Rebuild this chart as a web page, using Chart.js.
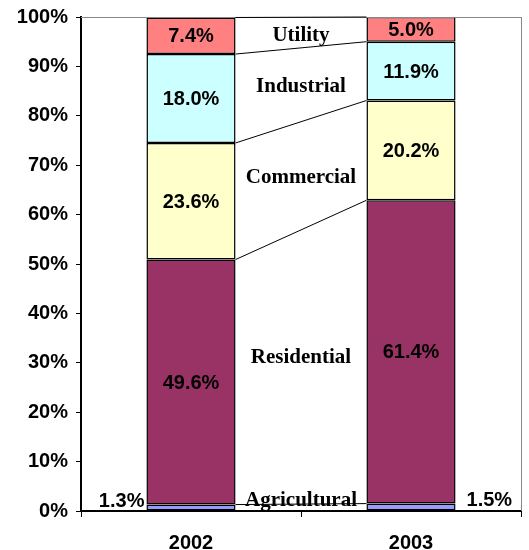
<!DOCTYPE html>
<html>
<head>
<meta charset="utf-8">
<script src="https://cdn.jsdelivr.net/npm/chart.js@4/dist/chart.umd.min.js"></script>
<style>
html,body{margin:0;padding:0;background:#fff;}
#wrap{width:529px;height:550px;position:relative;}
</style>
</head>
<body>
<div id="wrap"><canvas id="c" width="529" height="550"></canvas></div>
<script>
const categories = ["2002", "2003"];
const seriesNames = ["Agricultural", "Residential", "Commercial", "Industrial", "Utility"];
const agricultural = [1.3, 1.5];
const residential = [49.6, 61.4];
const commercial = [23.6, 20.2];
const industrial = [18.0, 11.9];
const utility = [7.4, 5.0];
const yTicks = [0, 10, 20, 30, 40, 50, 60, 70, 80, 90, 100];
const colors = ["#9999FF", "#993366", "#FFFFCC", "#CCFFFF", "#FF8080"];
const seriesValues = [agricultural, residential, commercial, industrial, utility];

// label y positions (in % units) for middle series names
const nameY = [2.1, 31.0, 67.5, 86.0, 96.2];

const datasets = seriesValues.map((vals, i) => ({
  label: seriesNames[i],
  data: vals,
  backgroundColor: colors[i],
  borderColor: "#000",
  borderWidth: 1.5,
  borderSkipped: false,
  barPercentage: 0.405,
  categoryPercentage: 1.0
}));

const overlay = {
  id: "overlay",
  afterDatasetsDraw(chart) {
    const ctx = chart.ctx;
    const x = chart.scales.x, y = chart.scales.y;
    const area = chart.chartArea;
    ctx.save();
    ctx.strokeStyle = "#888";
    ctx.lineWidth = 1;
    ctx.beginPath();
    ctx.moveTo(area.left, area.top + 0.5);
    ctx.lineTo(area.right, area.top + 0.5);
    ctx.moveTo(area.right + 0.5, area.top);
    ctx.lineTo(area.right + 0.5, area.bottom);
    ctx.stroke();

    const m0 = chart.getDatasetMeta(0).data;
    const x0 = m0[0].x + m0[0].width / 2;
    const x1 = m0[1].x - m0[1].width / 2;
    ctx.strokeStyle = "#000";
    ctx.lineWidth = 1;
    let c0 = 0, c1 = 0;
    for (let i = 0; i < seriesValues.length; i++) {
      c0 += seriesValues[i][0];
      c1 += seriesValues[i][1];
      ctx.beginPath();
      ctx.moveTo(x0, y.getPixelForValue(c0));
      ctx.lineTo(x1, y.getPixelForValue(c1));
      ctx.stroke();
    }

    ctx.fillStyle = "#000";
    ctx.font = "bold 21px 'Liberation Serif', 'Times New Roman', serif";
    ctx.textAlign = "center";
    ctx.textBaseline = "middle";
    const midX = (x0 + x1) / 2;
    for (let i = 0; i < seriesNames.length; i++) {
      ctx.fillText(seriesNames[i], midX, y.getPixelForValue(nameY[i]));
    }

    ctx.font = "bold 20px 'Liberation Sans', Arial, sans-serif";
    for (let j = 0; j < categories.length; j++) {
      let cum = 0;
      for (let i = 0; i < seriesValues.length; i++) {
        const v = seriesValues[i][j];
        const bar = chart.getDatasetMeta(i).data[j];
        const label = v.toFixed(1) + "%";
        if (i === 0) {
          ctx.textBaseline = "alphabetic";
          if (j === 0) {
            ctx.textAlign = "right";
            ctx.fillText(label, bar.x - bar.width / 2 - 2, y.getPixelForValue(cum + v) + 2);
          } else {
            ctx.textAlign = "left";
            ctx.fillText(label, bar.x + bar.width / 2 + 11, y.getPixelForValue(cum + v) + 2);
          }
        } else {
          ctx.textAlign = "center";
          ctx.textBaseline = "middle";
          ctx.fillText(label, bar.x, y.getPixelForValue(cum + v / 2) + 1);
        }
        cum += v;
      }
    }
    ctx.restore();
  }
};

new Chart(document.getElementById("c"), {
  type: "bar",
  data: { labels: categories, datasets },
  options: {
    responsive: false,
    animation: false,
    layout: { padding: { top: 17, right: 8, left: 0, bottom: 0 } },
    plugins: { legend: { display: false }, tooltip: { enabled: false } },
    scales: {
      x: {
        stacked: true,
        grid: { display: true, offset: true, drawOnChartArea: false, color: "#000", tickLength: 6, lineWidth: 1 },
        border: { display: true, color: "#000", width: 2 },
        ticks: { color: "#000", font: { family: "'Liberation Sans', Arial, sans-serif", size: 20, weight: "bold" }, padding: 14 },
        afterFit(s) { s.height = 39; }
      },
      y: {
        stacked: true,
        min: 0, max: 100,
        afterBuildTicks(s) { s.ticks = yTicks.map(v => ({ value: v })); },
        grid: { display: true, drawOnChartArea: false, color: "#000", tickLength: 5, lineWidth: 1 },
        border: { display: true, color: "#000", width: 2 },
        ticks: {
          color: "#000",
          font: { family: "'Liberation Sans', Arial, sans-serif", size: 20, weight: "bold" },
          padding: 8,
          callback: v => v + "%"
        },
        afterFit(s) { s.width = 81; s.paddingTop = 0; s.paddingBottom = 0; }
      }
    }
  },
  plugins: [overlay]
});
</script>
</body>
</html>
